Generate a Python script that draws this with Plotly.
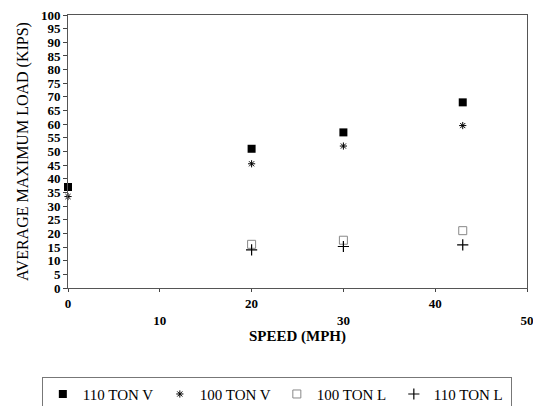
import plotly.graph_objects as go

speed_a = [0, 20, 30, 43]
v110 = [37, 51, 57, 68]
v100 = [33.5, 45.5, 52, 59.5]
speed_b = [20, 30, 43]
l100 = [16, 17.5, 21]
l110 = [14, 15.2, 15.8]

x_tick_vals = [0, 10, 20, 30, 40, 50]
x_tick_text = ["0", "<br>10", "20", "<br>30", "40", "<br>50"]
y_tick_vals = list(range(0, 101, 5))

FONT = "Liberation Serif"

fig = go.Figure()
fig.add_trace(go.Scatter(x=speed_a, y=v110, mode="markers", name="110 TON V",
                         marker=dict(symbol="square", size=8, color="black"), cliponaxis=False))
fig.add_trace(go.Scatter(x=speed_a, y=v100, mode="markers", name="100 TON V",
                         marker=dict(symbol="asterisk-open", size=6, color="black",
                                     line=dict(width=1, color="black")), cliponaxis=False))
fig.add_trace(go.Scatter(x=speed_b, y=l100, mode="markers", name="100 TON L",
                         marker=dict(symbol="square-open", size=8, color="#888",
                                     line=dict(width=1, color="#888")), cliponaxis=False))
fig.add_trace(go.Scatter(x=speed_b, y=l110, mode="markers", name="110 TON L",
                         marker=dict(symbol="cross-thin-open", size=8, color="black",
                                     line=dict(width=1.2, color="black")), cliponaxis=False))

fig.update_layout(
    width=533, height=406,
    margin=dict(l=68, r=6, t=15, b=118, autoexpand=False),
    paper_bgcolor="white", plot_bgcolor="white",
    font=dict(family=FONT, color="black", size=13),
    showlegend=True,
    legend=dict(orientation="h", x=-0.057, y=-0.325, xanchor="left", yanchor="top",
                bordercolor="#777", borderwidth=1, font=dict(family=FONT, size=15),
                entrywidth=72, entrywidthmode="pixels", itemwidth=30),
    xaxis=dict(range=[0, 50], tickvals=x_tick_vals, ticktext=x_tick_text,
               ticks="outside", ticklen=3, tickcolor="#444", automargin=False,
               ticklabeloverflow="allow",
               showline=True, linecolor="#555", linewidth=1, mirror=True,
               showgrid=False, zeroline=False,
               tickfont=dict(family=FONT, size=13, weight="bold"),
               title=dict(text="<b>SPEED (MPH)</b>", font=dict(family=FONT, size=15), standoff=2)),
    yaxis=dict(range=[0, 100], tickvals=y_tick_vals, automargin=False,
               ticks="outside", ticklen=4, tickcolor="#444",
               showline=True, linecolor="#555", linewidth=1, mirror=True,
               showgrid=False, zeroline=False,
               tickfont=dict(family=FONT, size=13, weight="bold"),
               title=dict(text="AVERAGE MAXIMUM LOAD (KIPS)", font=dict(family=FONT, size=16), standoff=8)),
)

fig.write_html("out.html")
